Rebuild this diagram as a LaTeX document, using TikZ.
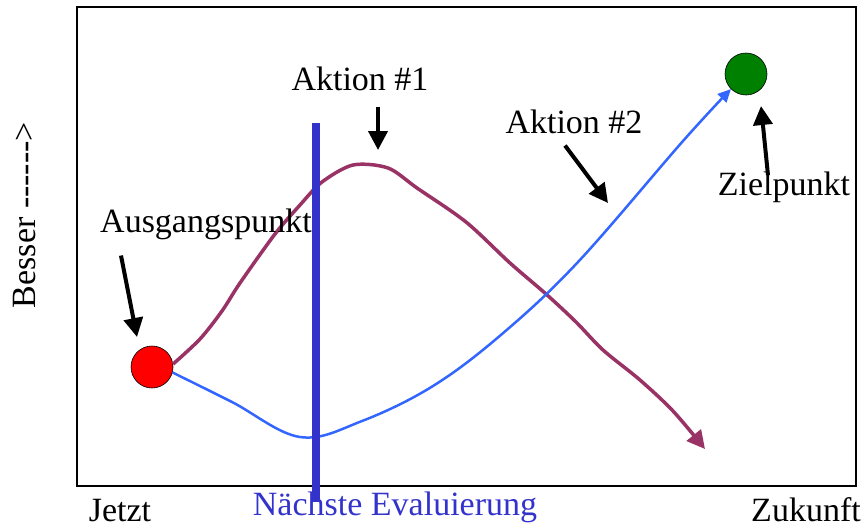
\documentclass[tikz,border=0pt]{standalone}
\usepackage{fontspec}
\setmainfont{Liberation Serif}
\usetikzlibrary{arrows.meta}
\definecolor{wine}{HTML}{993366}
\definecolor{skyline}{HTML}{3366FF}
\definecolor{evalblue}{HTML}{3333CC}
\definecolor{goalgreen}{HTML}{008000}
\begin{document}
\begin{tikzpicture}[x=1pt, y=-1pt,
  every node/.style={font=\fontsize{34}{40}\selectfont, inner sep=0pt},
  caption/.style={anchor=base},
  pointer/.style={line width=4pt, -{Triangle[length=19pt,width=19pt]}},
  dot/.style={circle, draw=black, line width=0.6pt, minimum size=42pt}]
\useasboundingbox (0,0) rectangle (866,528);
% frame of the chart
\draw[line width=2.5pt] (77,7) rectangle (856,486);
% start and goal
\node[dot, fill=red] (start) at (152,367) {};
\node[dot, fill=goalgreen] (goal) at (746,74) {};
\coordinate (fall) at (705,449);
% the two paths
\draw[wine, line width=3.5pt, -{Triangle[length=18pt,width=18pt]}]
  plot[smooth, tension=0.5] coordinates {(start.8) (200,339) (222,311) (240,283) (275,234)
  (300,205) (322,182) (353,165) (388,168) (417,188) (466,222) (510,263) (546,294)
  (576,322) (603,350) (640,380) (673,411) (fall)};
\draw[skyline, line width=2.5pt, -{Triangle[length=13pt,width=12pt]}]
  plot[smooth, tension=0.6] coordinates {(start.-15) (232,402) (300,437)
  (362,421) (433,386) (502,334) (578,262) (683,141) (goal.225)};
% next evaluation
\node[caption, text=evalblue] (evaltext) at (395,515) {Nächste Evaluierung};
\draw[evalblue, line width=8pt] (316,123) -- (316,502);
% labels and pointers
\node[caption] (a1) at (360,90) {Aktion \#1};
\node[caption] (a2) at (574,133) {Aktion \#2};
\node[caption] (aus) at (206,232) {Ausgangspunkt};
\node[caption] (ziel) at (784,195) {Zielpunkt};
\coordinate (a1tip) at (378,150);
\coordinate (a2tip) at (608,203);
\coordinate (austip) at (137,337);
\coordinate (zieltip) at (761,106);
\draw[pointer] ([xshift=18pt,yshift=-16pt]a1.south) -- (a1tip);
\draw[pointer] ([xshift=-9pt,yshift=-12pt]a2.south) -- (a2tip);
\draw[pointer] ([xshift=-85pt,yshift=-16pt]aus.south) -- (austip);
\draw[pointer] ([xshift=-16pt,yshift=-4pt]ziel.north) -- (zieltip);
% axis texts
\node[caption] (jetzt) at (120,521) {Jetzt};
\node[caption] (zukunft) at (806,521) {Zukunft};
\node[caption, rotate=90] (besser) at (35,215) {Besser -\kern0pt-\kern0pt-\kern0pt-\kern0pt-\kern0pt-\kern0pt>};
\end{tikzpicture}
\end{document}
